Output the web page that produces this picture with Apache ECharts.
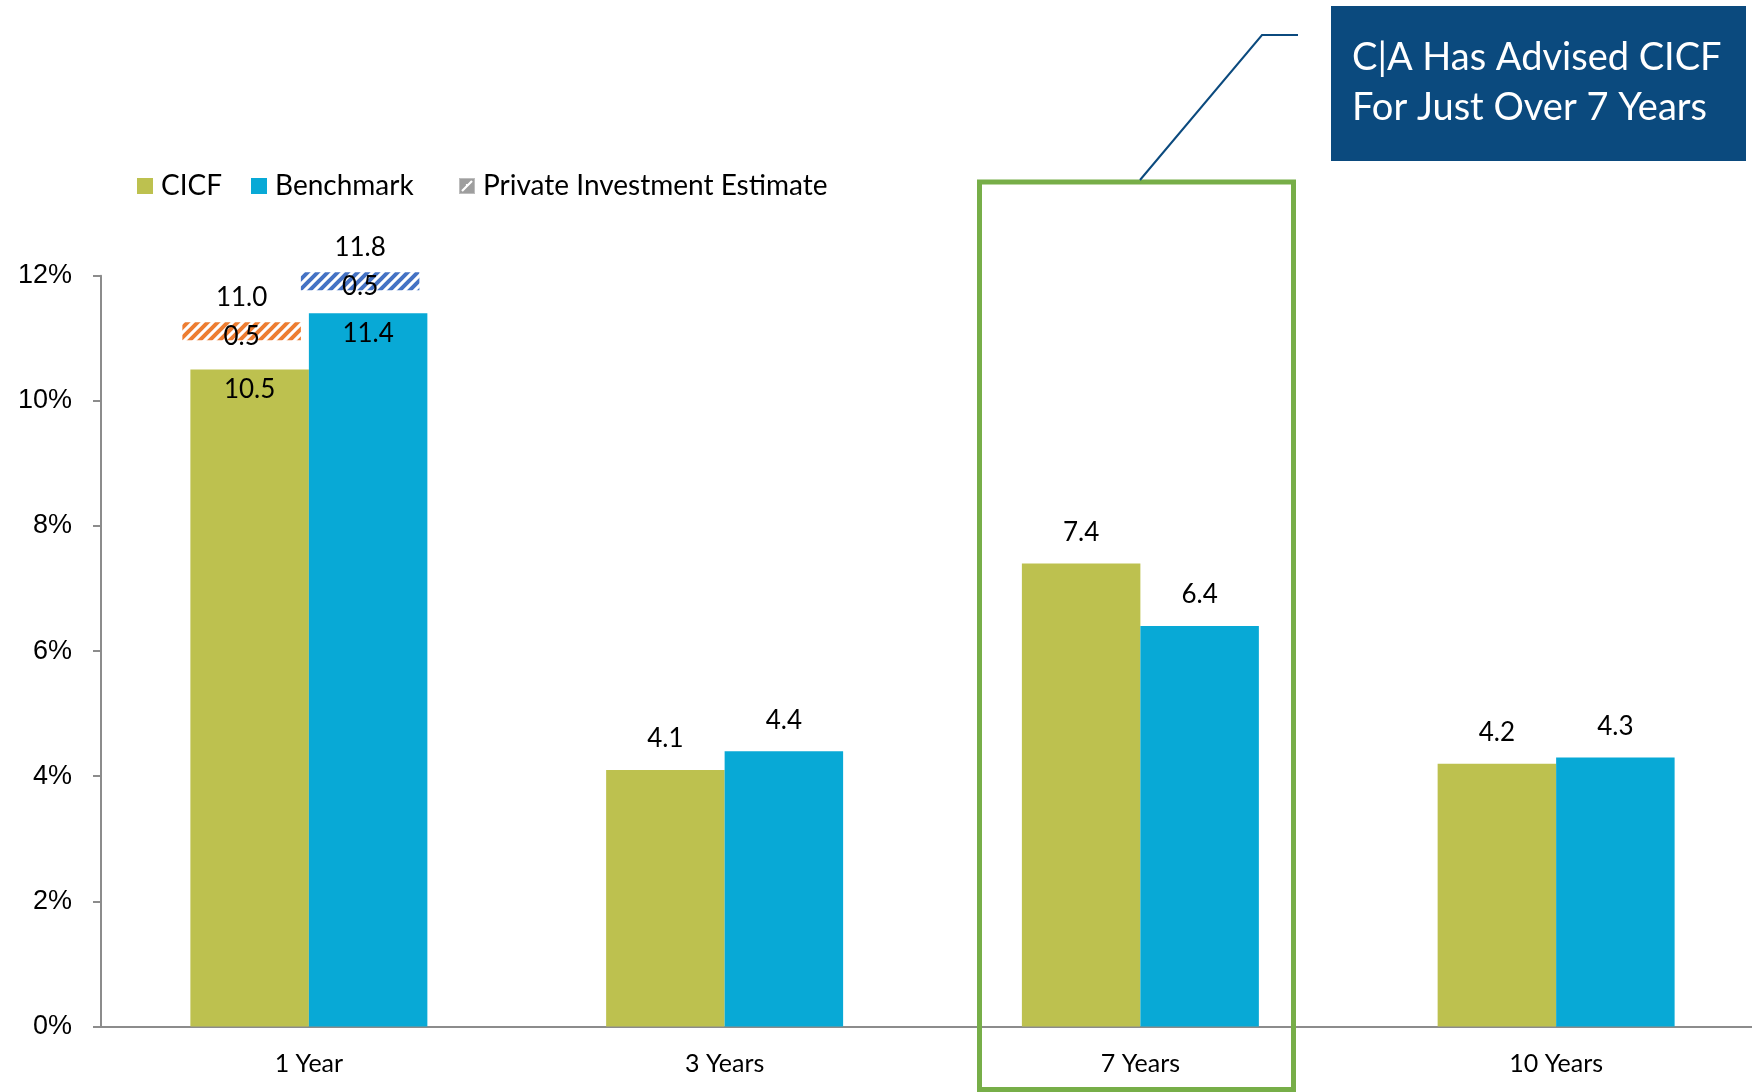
<!DOCTYPE html>
<html>
<head>
<meta charset="utf-8">
<title>CICF vs Benchmark</title>
<script src="https://cdn.jsdelivr.net/npm/echarts@6/dist/echarts.min.js"></script>
<style>
  html, body { margin: 0; padding: 0; background: #fff; }
  #chart { width: 1752px; height: 1092px; }
</style>
</head>
<body>
<div id="chart"></div>
<script>
// Trailing returns by period (%)
const categories = ['1 Year', '3 Years', '7 Years', '10 Years'];
const cicf = [10.5, 4.1, 7.4, 4.2];
const benchmark = [11.4, 4.4, 6.4, 4.3];

// Private investment estimate add-on and the resulting totals (1 Year only)
const cicfEstimate = [0.5, null, null, null];
const cicfTotal = [11.0, null, null, null];
const benchEstimate = [0.5, null, null, null];
const benchTotal = [11.8, null, null, null];

// Value axis ticks
const yTicks = [0, 2, 4, 6, 8, 10, 12];

const COLORS = {
  cicf: '#BDC14F',
  bench: '#08A9D6',
  cicfHatch: '#ED7D31',
  benchHatch: '#4472C4',
  axis: '#8C8C8C',
  box: '#77AE48',
  callout: '#0B4A7E'
};
const LABEL_FONT = 'Lato, "Open Sans", sans-serif';

// Diagonal stripe tile used as a fill pattern
function stripeTile(color) {
  const s = 10;
  const c = document.createElement('canvas');
  c.width = s; c.height = s;
  const g = c.getContext('2d');
  g.fillStyle = '#ffffff';
  g.fillRect(0, 0, s, s);
  g.strokeStyle = color;
  g.lineWidth = 4;
  g.beginPath();
  g.moveTo(-2, s + 2); g.lineTo(s + 2, -2);
  g.moveTo(-2, 2); g.lineTo(2, -2);
  g.moveTo(s - 2, s + 2); g.lineTo(s + 2, s - 2);
  g.stroke();
  return c;
}

// Small grey hatched legend icon
function estimateIcon() {
  const s = 16;
  const c = document.createElement('canvas');
  c.width = s; c.height = s;
  const g = c.getContext('2d');
  g.fillStyle = '#9E9E9E';
  g.fillRect(0, 0, s, s);
  g.strokeStyle = '#ffffff';
  g.lineWidth = 2.2;
  g.beginPath();
  g.moveTo(3, 13); g.lineTo(8, 8);
  g.moveTo(8, 8); g.lineTo(8, 6);
  g.moveTo(8, 8); g.lineTo(13, 3);
  g.stroke();
  g.strokeStyle = '#bdbdbd';
  g.lineWidth = 1;
  g.strokeRect(0.5, 0.5, s - 1, s - 1);
  return c.toDataURL();
}

const cicfPattern = { image: stripeTile(COLORS.cicfHatch), repeat: 'repeat' };
const benchPattern = { image: stripeTile(COLORS.benchHatch), repeat: 'repeat' };

const estimateRows = [];
categories.forEach((c, i) => {
  if (cicfTotal[i] != null || benchTotal[i] != null) {
    estimateRows.push([i, cicfTotal[i], cicfEstimate[i], benchTotal[i], benchEstimate[i]]);
  }
});

const BAR_FRAC = 0.285;
const BAND_H = 18;
const BAND_SHIFT = 8;

function renderEstimate(params, api) {
  const i = api.value(0);
  const cx = api.coord([i, 0])[0];
  const bw = api.size([1, 0])[0] * BAR_FRAC;
  const children = [];
  const add = (left, total, est, pattern) => {
    if (total == null || isNaN(total)) return;
    const top = api.coord([i, total])[1] + 2 - BAND_H;
    const x = left - BAND_SHIFT;
    children.push({
      type: 'rect',
      shape: { x: x, y: top, width: bw, height: BAND_H },
      style: { fill: pattern }
    });
    children.push({
      type: 'text',
      style: {
        text: est.toFixed(1), x: x + bw / 2, y: top + 14,
        fill: '#000', font: '26px ' + LABEL_FONT, align: 'center', verticalAlign: 'middle'
      }
    });
    children.push({
      type: 'text',
      style: {
        text: total.toFixed(1), x: x + bw / 2, y: top - 25,
        fill: '#000', font: '26px ' + LABEL_FONT, align: 'center', verticalAlign: 'middle'
      }
    });
  };
  add(cx - bw, api.value(1), api.value(2), cicfPattern);
  add(cx, api.value(3), api.value(4), benchPattern);
  return { type: 'group', children: children };
}

function barData(values, total) {
  return values.map((v, i) => {
    if (total[i] != null) {
      return { value: v, label: { position: 'insideTop', distance: 5 } };
    }
    return v;
  });
}

const barLabel = {
  show: true,
  position: 'top',
  distance: 16,
  color: '#000',
  fontSize: 26,
  fontFamily: LABEL_FONT,
  lineHeight: 30,
  formatter: p => Number(p.value).toFixed(1)
};

const legendText = {
  color: '#000', fontSize: 28, fontFamily: LABEL_FONT, lineHeight: 30,
  padding: [0, 0, 0, 3]
};
function legendAt(left, name, icon) {
  return {
    left: left, top: 171,
    itemWidth: 16, itemHeight: 16,
    padding: 0,
    selectedMode: false,
    textStyle: legendText,
    data: [{ name: name, icon: icon }]
  };
}

const chart = echarts.init(document.getElementById('chart'), null, { renderer: 'canvas' });
chart.setOption({
  animation: false,
  backgroundColor: '#ffffff',
  legend: [
    legendAt(137, 'CICF', 'rect'),
    legendAt(251, 'Benchmark', 'rect'),
    legendAt(459, 'Private Investment Estimate', 'image://' + estimateIcon())
  ],
  grid: {
    left: 101, top: 275.7, width: 1663, bottom: 65.5,
    containLabel: false,
    outerBoundsMode: 'none'
  },
  xAxis: {
    type: 'category',
    data: categories,
    axisLine: { show: true, lineStyle: { color: COLORS.axis, width: 2 } },
    axisTick: { show: false },
    axisLabel: { color: '#000', fontSize: 25, fontFamily: LABEL_FONT, margin: 25 }
  },
  yAxis: {
    type: 'value',
    min: yTicks[0],
    max: yTicks[yTicks.length - 1],
    interval: yTicks[1] - yTicks[0],
    axisLine: { show: true, lineStyle: { color: COLORS.axis, width: 2 } },
    axisTick: { show: true, length: 8, lineStyle: { color: COLORS.axis, width: 2 } },
    splitLine: { show: false },
    axisLabel: {
      color: '#000', fontSize: 27, fontFamily: '"Liberation Sans", Arial, sans-serif',
      margin: 29, formatter: '{value}%'
    }
  },
  series: [
    {
      name: 'CICF', type: 'bar', data: barData(cicf, cicfTotal),
      barWidth: (BAR_FRAC * 100) + '%', barGap: '0%',
      itemStyle: { color: COLORS.cicf },
      label: barLabel
    },
    {
      name: 'Benchmark', type: 'bar', data: barData(benchmark, benchTotal),
      barWidth: (BAR_FRAC * 100) + '%', barGap: '0%',
      itemStyle: { color: COLORS.bench },
      label: barLabel
    },
    {
      name: 'Private Investment Estimate', type: 'custom',
      coordinateSystem: 'cartesian2d',
      renderItem: renderEstimate,
      encode: { x: 0, y: 1 },
      clip: false,
      itemStyle: { color: '#9E9E9E' },
      data: estimateRows,
      z: 3
    }
  ],
  graphic: [
    {
      type: 'rect', z: 10,
      shape: { x: 979.5, y: 182, width: 314, height: 907.5 },
      style: { fill: null, stroke: COLORS.box, lineWidth: 5 }
    },
    {
      type: 'polyline', z: 10,
      shape: { points: [[1140, 180], [1262, 35], [1298, 35]] },
      style: { fill: null, stroke: COLORS.callout, lineWidth: 2 }
    },
    {
      type: 'rect', z: 10,
      shape: { x: 1331, y: 6, width: 415, height: 155 },
      style: { fill: COLORS.callout }
    },
    {
      type: 'text', z: 11,
      style: {
        text: 'C|A Has Advised CICF', x: 1352, y: 58,
        fill: '#fff', font: '38px ' + LABEL_FONT, verticalAlign: 'middle'
      }
    },
    {
      type: 'text', z: 11,
      style: {
        text: 'For Just Over 7 Years', x: 1352, y: 108,
        fill: '#fff', font: '38px ' + LABEL_FONT, verticalAlign: 'middle'
      }
    }
  ]
});
</script>
</body>
</html>
